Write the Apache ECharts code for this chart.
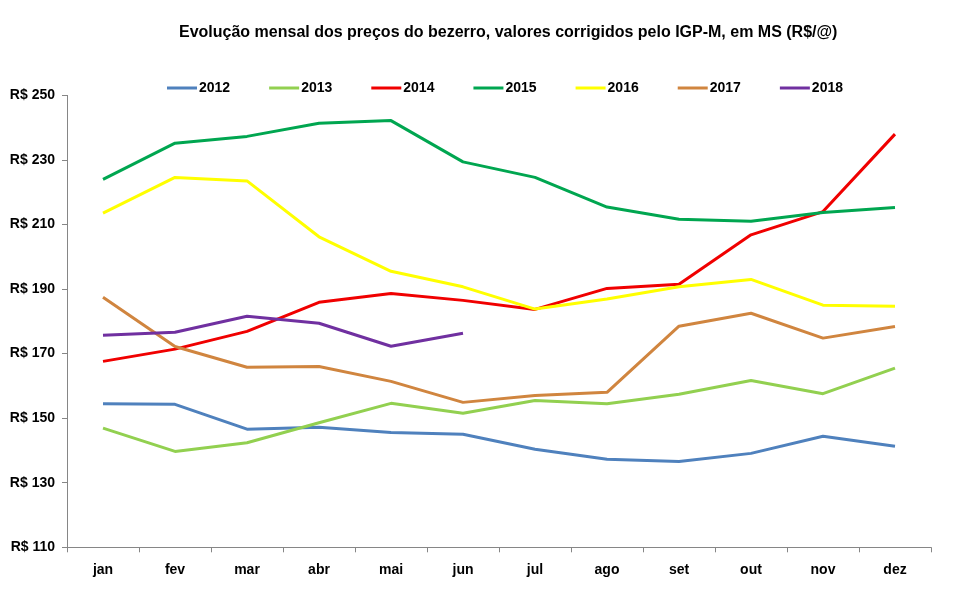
<!DOCTYPE html>
<html><head><meta charset="utf-8">
<script src="https://cdn.jsdelivr.net/npm/echarts@6/dist/echarts.min.js"></script>
<style>html,body{margin:0;padding:0;background:#fff}#c{width:960px;height:593px}</style>
</head><body><div id="c"></div>
<script>
const months = ['jan','fev','mar','abr','mai','jun','jul','ago','set','out','nov','dez'];
const years = ['2012','2013','2014','2015','2016','2017','2018'];
const v2012 = [154.5,154.3,146.6,147.2,145.6,145.0,140.4,137.3,136.6,139.1,144.4,141.3];
const v2013 = [146.9,139.7,142.4,148.6,154.6,151.5,155.5,154.5,157.4,161.7,157.6,165.5];
const v2014 = [167.6,171.4,176.9,185.9,188.6,186.5,183.7,190.2,191.5,206.8,214.0,238.0];
const v2015 = [224.0,235.2,237.3,241.4,242.2,229.4,224.6,215.4,211.6,211.0,213.7,215.3];
const v2016 = [213.5,224.6,223.5,206.2,195.5,190.7,183.8,186.9,190.7,193.0,185.0,184.7];
const v2017 = [187.5,172.2,165.8,166.0,161.4,154.9,157.0,158.0,178.5,182.5,174.8,178.4];
const v2018 = [175.7,176.6,181.6,179.4,172.3,176.3,null,null,null,null,null,null];
const values = [v2012,v2013,v2014,v2015,v2016,v2017,v2018];
const colors = ['#4F81BD','#92D050','#F00000','#00A650','#FFFF00','#D0853F','#7030A0'];
const FONT = "'Liberation Sans',Arial,sans-serif";
const chart = echarts.init(document.getElementById('c'));
chart.setOption({
  animation:false,
  textStyle:{fontFamily:FONT},
  title:{text:'Evolução mensal dos preços do bezerro, valores corrigidos pelo IGP-M, em MS (R$/@)',
    left:174, top:20, textStyle:{fontFamily:FONT,fontSize:16,fontWeight:'bold',color:'#000'}},
  legend:{data:years, top:76, left:162, itemWidth:30, itemHeight:3, itemGap:39,
    icon:'rect',
    textStyle:{fontFamily:FONT,fontSize:14,fontWeight:'bold',color:'#000',padding:[0,0,0,-3]}},
  grid:{left:67,right:29,top:95.4,bottom:45.7,containLabel:false},
  xAxis:{type:'category',data:months,boundaryGap:true,
    axisLine:{lineStyle:{color:'#868686',width:1}},
    axisTick:{show:true,length:5,inside:false,lineStyle:{color:'#868686'}},
    axisLabel:{fontFamily:FONT,fontSize:14,fontWeight:'bold',color:'#000',margin:16}},
  yAxis:{type:'value',min:110,max:250,interval:20,
    axisLine:{show:true,lineStyle:{color:'#868686',width:1}},
    axisTick:{show:true,length:5,lineStyle:{color:'#868686'}},
    splitLine:{show:false},
    axisLabel:{fontFamily:FONT,fontSize:14,fontWeight:'bold',color:'#000',margin:12,
      formatter:v=>'R$ '+v}},
  series: years.map((y,i)=>({name:y,type:'line',data:values[i],
    symbol:'none',lineStyle:{width:3,color:colors[i]},itemStyle:{color:colors[i]},
    connectNulls:false}))
});
</script></body></html>
